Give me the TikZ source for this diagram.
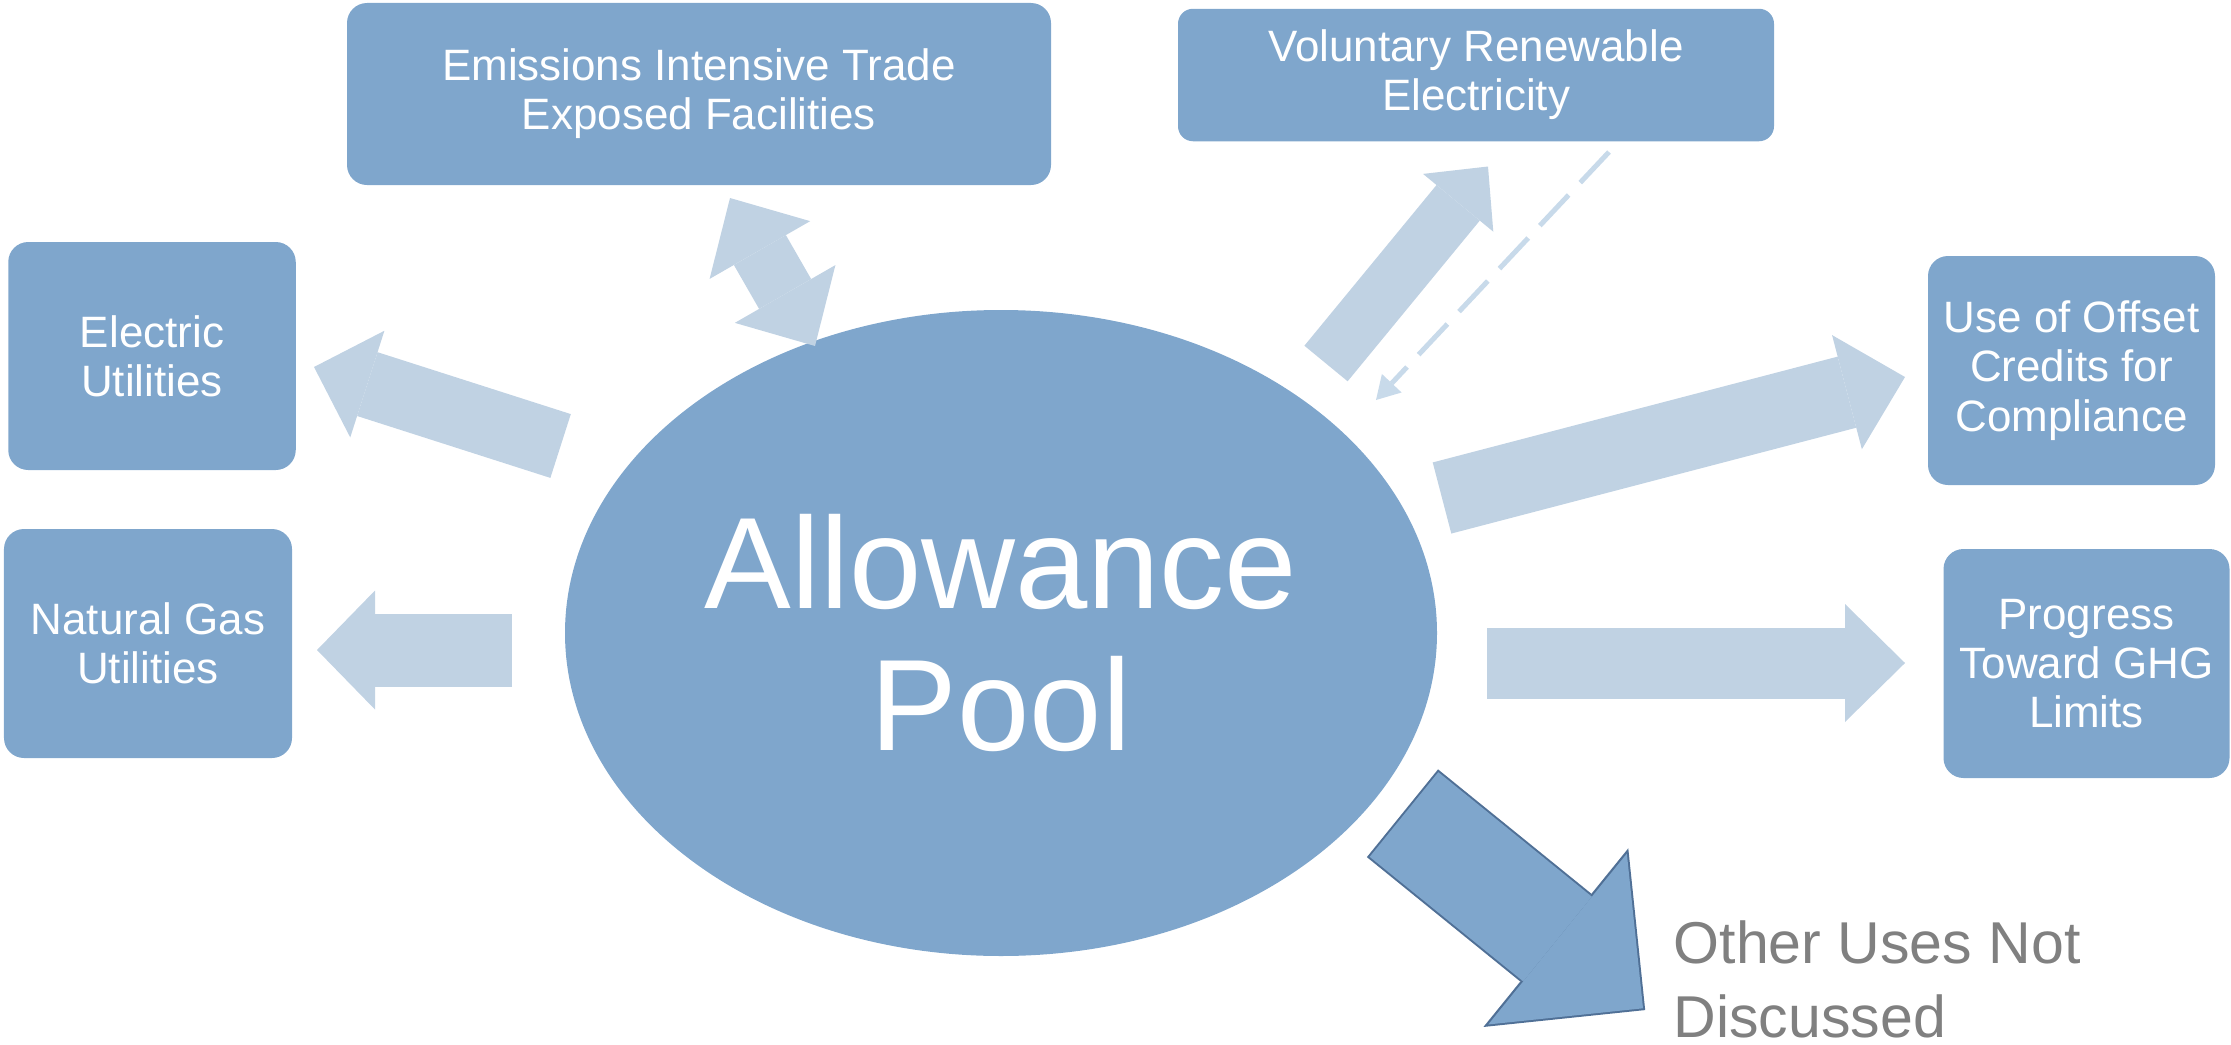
\documentclass[tikz,border=0pt]{standalone}
\usepackage{fontspec}
\setmainfont{Liberation Sans}
\usetikzlibrary{shapes.geometric,arrows.meta,positioning,calc}
\definecolor{boxblue}{RGB}{127,166,204}
\definecolor{paleblue}{RGB}{192,210,227}
\definecolor{dashblue}{RGB}{200,218,234}
\definecolor{edgeblue}{RGB}{80,112,150}
\definecolor{othergray}{RGB}{128,128,128}

\begin{document}
\begin{tikzpicture}[
    box/.style={rectangle, fill=boxblue, rounded corners=0.2cm, inner sep=0pt, outer sep=0pt, align=center, text=white, font=\fontsize{12.5}{14}\selectfont},
    flow/.style n args={3}{draw=paleblue, line width=#1, -{Triangle[width=#2, length=#3, line width=0pt]}},
    flowboth/.style n args={3}{draw=paleblue, line width=#1, {Triangle[width=#2, length=#3, line width=0pt]}-{Triangle[width=#2, length=#3, line width=0pt]}}
]
\useasboundingbox (0,0) rectangle (22.31,-10.45);

% Central pool
\node[ellipse, fill=boxblue, minimum width=8.72cm, minimum height=6.46cm, inner sep=0pt, align=center, text=white, font=\fontsize{37}{40.5}\selectfont] (pool) at (10.01,-6.33) {Allowance\\Pool};

% Uses of allowances
\node[box, minimum width=7.04cm, minimum height=1.82cm] (eite) at (6.99,-0.94) {Emissions Intensive Trade\\Exposed Facilities};
\node[box, minimum width=5.96cm, minimum height=1.325cm, rounded corners=0.15cm] (vre) at (14.76,-0.75) {Voluntary Renewable\\Electricity};
\node[box, minimum width=2.875cm, minimum height=2.28cm] (elec) at (1.52,-3.56) {Electric\\Utilities};
\node[box, minimum width=2.88cm, minimum height=2.29cm] (gas) at (1.48,-6.435) {Natural Gas\\Utilities};
\node[box, minimum width=2.87cm, minimum height=2.29cm] (offset) at (20.715,-3.705) {Use of Offset\\Credits for\\Compliance};
\node[box, minimum width=2.86cm, minimum height=2.29cm] (ghg) at (20.865,-6.635) {Progress\\Toward GHG\\Limits};
\node[anchor=north west, inner sep=0pt, align=left, text=othergray, font=\fontsize{16.8}{21}\selectfont] (other) at (16.73,-9.20) {Other Uses Not\\Discussed};

% Arrow ends
\coordinate (elec-out) at (5.606,-4.46);
\coordinate (elec-in) at (3.14,-3.67);
\coordinate (gas-out) at (5.12,-6.50);
\coordinate (gas-in) at (3.17,-6.50);
\coordinate (eite-top) at (7.30,-1.98);
\coordinate (eite-bot) at (8.15,-3.46);
\coordinate (vre-out) at (13.26,-3.635);
\coordinate (vre-in) at (14.88,-1.665);
\coordinate (vre-back) at (16.09,-1.52);
\coordinate (vre-ret) at (13.76,-4.00);
\coordinate (offset-out) at (14.42,-4.98);
\coordinate (offset-in) at (19.05,-3.77);
\coordinate (ghg-out) at (14.87,-6.63);
\coordinate (ghg-in) at (19.05,-6.63);
\coordinate (other-out) at (14.04,-8.145);
\coordinate (other-in) at (16.43,-10.083);

% Arrows
\draw[flow={0.67cm}{1.12cm}{0.56cm}] (elec-out) -- (elec-in);
\draw[flow={0.73cm}{1.19cm}{0.58cm}] (gas-out) -- (gas-in);
\draw[flowboth={0.60cm}{1.16cm}{0.60cm}] (eite-top) -- (eite-bot);
\draw[flow={0.56cm}{0.91cm}{0.47cm}] (vre-out) -- (vre-in);
\draw[draw=dashblue, line width=0.05cm, dash pattern=on 0.42cm off 0.17cm, -{Triangle[width=0.27cm, length=0.23cm, line width=0pt]}] (vre-back) -- (vre-ret);
\draw[flow={0.735cm}{1.18cm}{0.60cm}] (offset-out) -- (offset-in);
\draw[flow={0.71cm}{1.18cm}{0.60cm}] (ghg-out) -- (ghg-in);
\draw[flow={1.13cm}{2.30cm}{1.15cm}, draw=edgeblue] ($(other-out)!-0.02cm!(other-in)$) -- ($(other-in)!-0.028cm!(other-out)$);
\draw[flow={1.09cm}{2.20cm}{1.10cm}, draw=boxblue] (other-out) -- (other-in);

\end{tikzpicture}
\end{document}
